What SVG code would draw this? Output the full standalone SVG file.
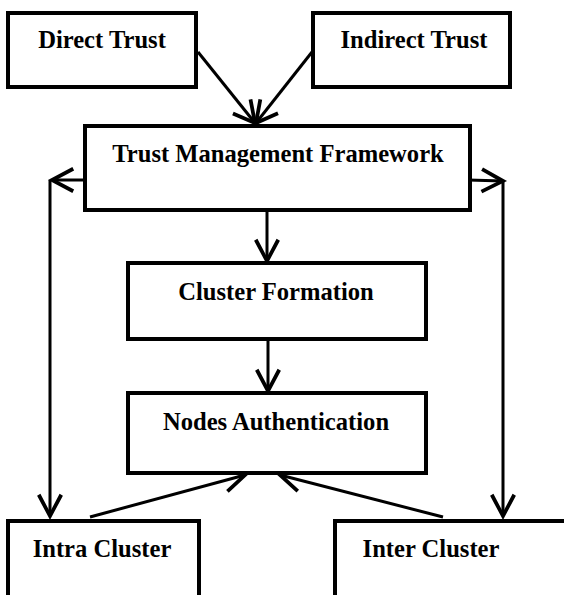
<svg xmlns="http://www.w3.org/2000/svg" width="564" height="595" viewBox="0 0 564 595">
<style>
.box{fill:#fff;stroke:#000;stroke-width:4}
.lbl{font-family:"Liberation Serif","Times New Roman",serif;font-weight:bold;font-size:24.6px;fill:#000;text-anchor:middle}
.con{fill:none;stroke:#000;stroke-width:3;marker-end:url(#ah)}
</style>
<defs>
<marker id="ah" markerUnits="userSpaceOnUse" markerWidth="30" markerHeight="30" viewBox="-20 -12 24 24" refX="0" refY="0" orient="auto">
<path d="M-17,-9 L0,0 L-17,9" fill="none" stroke="#000" stroke-width="3"/>
</marker>
</defs>
<rect width="564" height="595" fill="#fff"/>
<g id="connectors">
<line class="con" x1="198" y1="52" x2="255" y2="123"/>
<line class="con" x1="312" y1="52" x2="256" y2="123"/>
<line class="con" x1="88" y1="180" x2="52" y2="180"/>
<line class="con" x1="50" y1="180" x2="50" y2="516"/>
<line class="con" x1="468" y1="180" x2="503" y2="181"/>
<line class="con" x1="503" y1="181" x2="503" y2="516"/>
<line class="con" x1="267" y1="210" x2="267" y2="261"/>
<line class="con" x1="268" y1="339" x2="268" y2="391"/>
<line class="con" x1="90" y1="517" x2="245" y2="475"/>
<line class="con" x1="443" y1="517" x2="280" y2="475"/>
</g>
<g id="direct-trust"><rect class="box" x="8" y="13" width="188" height="74"/><text class="lbl" x="102" y="48">Direct Trust</text></g>
<g id="indirect-trust"><rect class="box" x="313" y="13" width="197" height="74"/><text class="lbl" x="414" y="48">Indirect Trust</text></g>
<g id="trust-management-framework"><rect class="box" x="85" y="126" width="385" height="84"/><text class="lbl" x="278" y="162">Trust Management Framework</text></g>
<g id="cluster-formation"><rect class="box" x="128" y="263" width="298" height="76"/><text class="lbl" x="276" y="300">Cluster Formation</text></g>
<g id="nodes-authentication"><rect class="box" x="128" y="393" width="298" height="80"/><text class="lbl" x="276" y="430">Nodes Authentication</text></g>
<g id="intra-cluster"><rect class="box" x="8" y="521" width="191" height="90"/><text class="lbl" x="102" y="557">Intra Cluster</text></g>
<g id="inter-cluster"><rect class="box" x="335" y="521" width="250" height="90"/><text class="lbl" x="431" y="557">Inter Cluster</text></g>
</svg>
